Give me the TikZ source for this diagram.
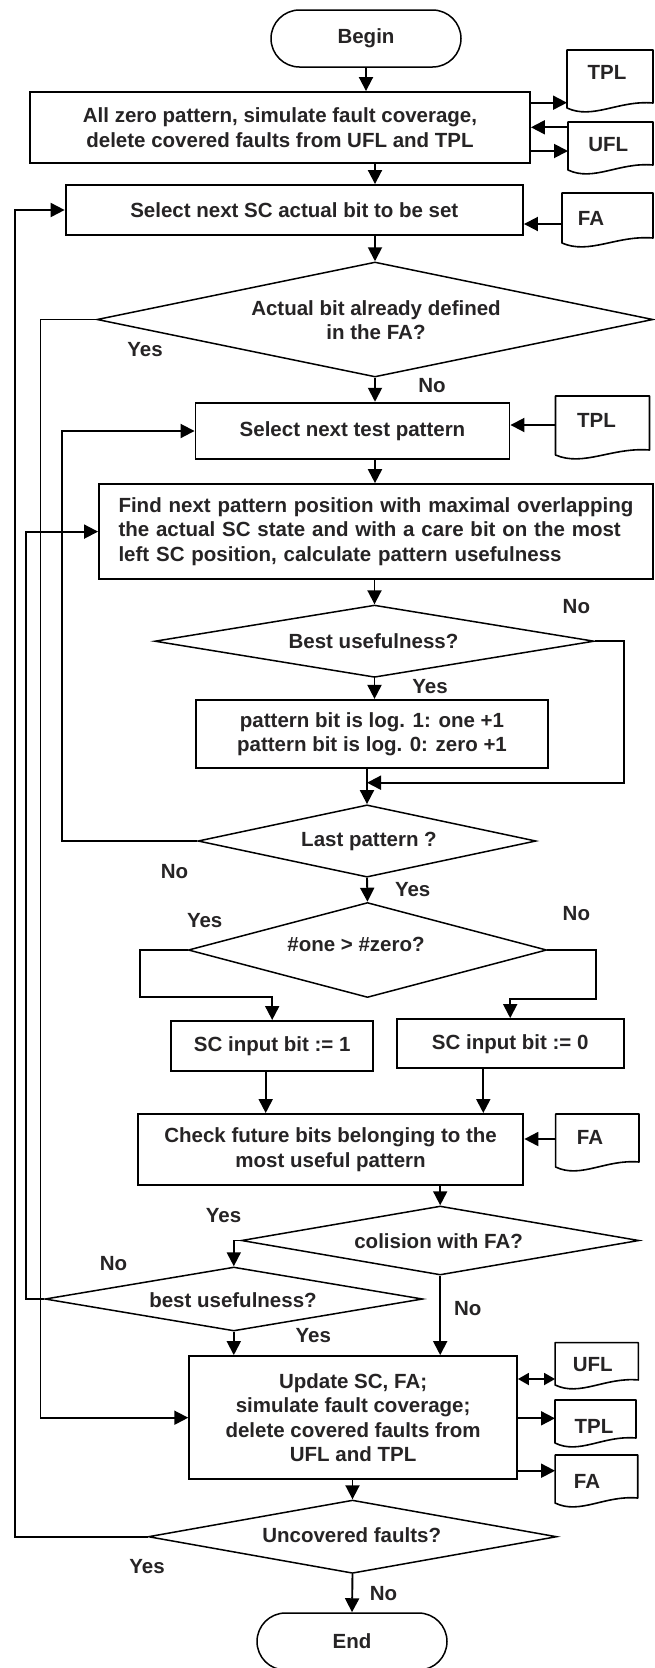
\documentclass[tikz,border=0pt]{standalone}
\usepackage{fontspec}
\setmainfont{Liberation Sans}
\usetikzlibrary{arrows.meta,shapes.geometric,calc}
\definecolor{txtc}{RGB}{38,36,37}
\begin{document}
\begin{tikzpicture}[x=1pt,y=-1pt,
  every node/.style={font=\fontsize{20.5}{24.4}\selectfont\bfseries, text=txtc, align=center},
  box/.style={draw, rectangle, line width=1.9pt, inner sep=0pt},
  term/.style={draw, rectangle, rounded corners=28.5pt, line width=1.5pt, inner sep=0pt, minimum width=190pt, minimum height=57pt},
  dia/.style={draw, diamond, line width=1.5pt, inner sep=0pt},
  docn/.style={rectangle, inner sep=0pt, outer sep=0pt},
  docline/.style={line width=1.6pt, line join=round},
  lab/.style={inner sep=0pt},
  arr/.style={line width=1.9pt, -{Triangle[length=14pt,width=14pt]}},
  darr/.style={line width=1.9pt, {Triangle[length=11pt,width=12pt]}-{Triangle[length=11pt,width=12pt]}},
  ln/.style={line width=1.9pt}
]
\fill[white] (0,0) rectangle (655,1668);
\useasboundingbox (0,0) rectangle (655,1668);

% main nodes
\node[term] (begin) at (366,38.5) {Begin};
\node[box, minimum width=500pt, minimum height=71pt] (allzero) at (280,127.5) {All zero pattern, simulate fault coverage,\\delete covered faults from UFL and TPL};
\node[box, minimum width=457.4pt, minimum height=50pt] (selsc) at (294.3,210) {Select next SC actual bit to be set};
\node[dia, minimum width=556pt, minimum height=115pt] (d1) at (375,319.5) {};
\node[lab] (d1t) at (376,320) {Actual bit already defined\\in the FA?};
\node[box, minimum width=314pt, minimum height=56.6pt] (seltp) at (352.5,431) {Select next test pattern};
\node[box, minimum width=554pt, minimum height=95pt, text width=515pt, align=left] (find) at (376,531.6) {Find next pattern position with maximal overlapping\\the actual SC state and with a care bit on the most\\left SC position, calculate pattern usefulness};
\node[dia, minimum width=439.4pt, minimum height=72.3pt] (d2) at (374.5,641.2) {};
\node[lab] (d2t) at (373.5,641) {Best usefulness?};
\node[box, minimum width=351.7pt, minimum height=68.3pt] (cnt) at (372,734) {pattern bit is log. 1: one +1\\pattern bit is log. 0: zero +1};
\node[dia, minimum width=338pt, minimum height=72.3pt] (d3) at (367,841) {};
\node[lab] (d3t) at (369,841) {Last pattern ?};
\node[dia, minimum width=358.4pt, minimum height=95pt] (d4) at (367.5,950) {};
\node[lab] (d4t) at (356,944) {\#one > \#zero?};
\node[box, minimum width=201.7pt, minimum height=49.7pt] (sc1) at (272.2,1045.8) {SC input bit := 1};
\node[box, minimum width=226.8pt, minimum height=49.3pt] (sc0) at (510.2,1043.7) {SC input bit := 0};
\node[box, minimum width=385.6pt, minimum height=71pt] (check) at (330.6,1149.5) {Check future bits belonging to the\\most useful pattern};
\node[dia, minimum width=397.6pt, minimum height=69pt] (d5) at (440.2,1240.5) {};
\node[lab] (d5t) at (438.6,1240.7) {colision with FA?};
\node[dia, minimum width=377.7pt, minimum height=64pt] (d6) at (233.8,1299) {};
\node[lab] (d6t) at (233,1300) {best usefulness?};
\node[box, minimum width=327.8pt, minimum height=123.3pt] (upd) at (353.1,1417.7) {Update SC, FA;\\simulate fault coverage;\\delete covered faults from\\UFL and TPL};
\node[dia, minimum width=408.5pt, minimum height=73.3pt] (d7) at (352.5,1536.7) {};
\node[lab] (d7t) at (351.7,1535) {Uncovered faults?};
\node[term] (end) at (352,1641.5) {End};

% document symbols
\node[docn, minimum width=86pt, minimum height=63pt] (tpl1) at (610,81.5) {};
\node[docn, minimum width=85pt, minimum height=53pt] (ufl1) at (610.5,148.5) {};
\node[docn, minimum width=91pt, minimum height=55pt] (fa1) at (607.5,220.5) {};
\node[docn, minimum width=94pt, minimum height=64pt] (tpl2) at (602.5,428) {};
\node[docn, minimum width=83.4pt, minimum height=58pt] (fa2) at (597.3,1143) {};
\node[docn, minimum width=83.3pt, minimum height=47.3pt] (ufl2) at (596.7,1366.3) {};
\node[docn, minimum width=81pt, minimum height=48pt] (tpl3) at (595.5,1424) {};
\node[docn, minimum width=82.7pt, minimum height=53pt] (fa3) at (596.4,1481.5) {};
\foreach \n in {tpl1,ufl1,fa1,tpl2,fa2,ufl2,tpl3,fa3}{
  \draw[docline] ([yshift=5pt]\n.south west) -- (\n.north west) -- (\n.north east) -- ([yshift=10pt]\n.south east)
    .. controls ($(\n.south west)!0.6!(\n.south east)+(0,-13)$) and ($(\n.south west)!0.3!(\n.south east)+(0,7)$) .. ([yshift=5pt]\n.south west) -- cycle;
}
\node[lab] (tpl1t) at (607,72) {TPL};
\node[lab] (ufl1t) at (608.3,145) {UFL};
\node[lab] (fa1t) at (591,218) {FA};
\node[lab] (tpl2t) at (596.5,420) {TPL};
\node[lab] (fa2t) at (590,1137.7) {FA};
\node[lab] (ufl2t) at (592.7,1365) {UFL};
\node[lab] (tpl3t) at (594,1426.7) {TPL};
\node[lab] (fa3t) at (587,1481.7) {FA};

% helper coordinates
\coordinate (L1) at (14.6,0);
\coordinate (L2) at (25.9,0);
\coordinate (L3) at (40.5,0);
\coordinate (L4) at (61.8,0);
\coordinate (R2) at (623.6,0);
\coordinate (mrg) at (367,782.7);
\coordinate (k1) at (140,996.7);
\coordinate (k2) at (596,999);
\coordinate (s1b) at ([xshift=-6.5pt]sc1.south);
\coordinate (s0b) at ([xshift=-26.9pt]sc0.south);
\coordinate (ya) at (0,102.7);
\coordinate (yb) at (0,127.3);
\coordinate (yc) at (0,151);
\coordinate (yd) at (0,224);
\coordinate (ye) at (0,425);
\coordinate (yf) at (0,1139);
\coordinate (yg) at (0,1379);
\coordinate (yh) at (0,1418.3);
\coordinate (yi) at (0,1470.7);

% main flow
\draw[arr] (begin.south) -- (begin.south |- allzero.north);
\draw[arr] (allzero.south -| d1.north) -- (selsc.north -| d1.north);
\draw[arr] (selsc.south -| d1.north) -- (d1.north);
\draw[arr] (d1.south) -- (d1.south |- seltp.north);
\draw[arr] (seltp.south -| d1.south) -- (find.north -| d1.south);
\draw[arr] (find.south -| d2.north) -- (d2.north);
\draw[arr] (d2.south) -- (d2.south |- cnt.north);
\draw[arr] (d2.east) -- (d2.east -| R2) -- (mrg -| R2) -- (mrg);
\draw[ln] (cnt.south -| mrg) -- (mrg);
\draw[arr] (mrg) -- (d3.north);
\draw[arr] (d3.west) -- (d3.west -| L4) -- (seltp.west -| L4) -- (seltp.west);
\draw[arr] (d3.south) -- (d4.north);
\draw[arr] (d4.west) -| (k1) -| (sc1.north);
\draw[arr] (d4.east) -| (k2) -| (sc0.north);
\draw[arr] (s1b) -- (s1b |- check.north);
\draw[arr] (s0b) -- (s0b |- check.north);
\draw[arr] (d5.north |- check.south) -- (d5.north);
\draw[arr] (d5.west) -| (d6.north);
\draw[arr] (d5.south) -- (d5.south |- upd.north);
\draw[arr] (d6.south) -- (d6.south |- upd.north);
\draw[arr] (d6.west) -- (d6.west -| L2) -- (find.west -| L2) -- (find.west);
\draw[arr] (d1.west) -- (d1.west -| L3) -- (upd.west -| L3) -- (upd.west);
\draw[arr] (upd.south -| d7.north) -- (d7.north);
\draw[arr] (d7.west) -- (d7.west -| L1) -- (selsc.west -| L1) -- (selsc.west);
\draw[arr] (d7.south) -- (end.north);

% document connectors
\draw[arr] (allzero.east |- ya) -- (tpl1.west |- ya);
\draw[arr] (ufl1.west |- yb) -- (allzero.east |- yb);
\draw[arr] (allzero.east |- yc) -- (ufl1.west |- yc);
\draw[arr] (fa1.west |- yd) -- (selsc.east |- yd);
\draw[arr] (tpl2.west |- ye) -- (seltp.east |- ye);
\draw[arr] (fa2.west |- yf) -- (check.east |- yf);
\draw[darr] (upd.east |- yg) -- (ufl2.west |- yg);
\draw[arr] (upd.east |- yh) -- (tpl3.west |- yh);
\draw[arr] (upd.east |- yi) -- (fa3.west |- yi);

% branch labels
\node[lab] (y1) at (145,350) {Yes};
\node[lab] (n1) at (432,386) {No};
\node[lab] (n2) at (576.4,607) {No};
\node[lab] (y2) at (430,687) {Yes};
\node[lab] (n3) at (174.6,871.7) {No};
\node[lab] (y3) at (412.7,890) {Yes};
\node[lab] (y4) at (204.7,920.7) {Yes};
\node[lab] (n4) at (576.4,913.3) {No};
\node[lab] (y5) at (223.5,1216) {Yes};
\node[lab] (n5) at (467.8,1309) {No};
\node[lab] (n6) at (113.6,1263.3) {No};
\node[lab] (y6) at (313.3,1336) {Yes};
\node[lab] (y7) at (147,1566.7) {Yes};
\node[lab] (n7) at (383.5,1594) {No};
\end{tikzpicture}
\end{document}
